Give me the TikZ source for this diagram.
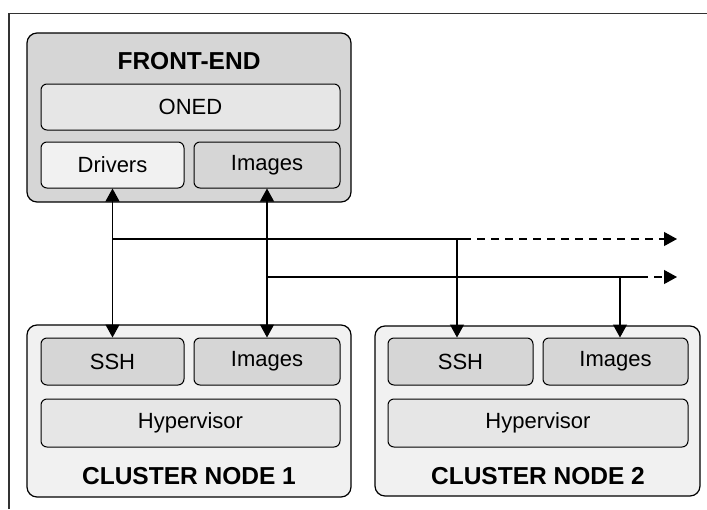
\documentclass[tikz,border=0pt]{standalone}
\usepackage{fontspec}
\setmainfont{Liberation Sans}
\usetikzlibrary{arrows.meta,positioning}

\definecolor{midgray}{RGB}{214,214,214}
\definecolor{litgray}{RGB}{230,230,230}
\definecolor{palegray}{RGB}{241,241,241}
\definecolor{framegray}{RGB}{50,50,50}

\begin{document}
\begin{tikzpicture}[x=1pt,y=-1pt,
  outbox/.style={draw,line width=1.2pt,rounded corners=10pt,inner sep=0pt},
  inbox/.style={draw,line width=1pt,rounded corners=6pt,inner sep=0pt,minimum height=46pt,
    font=\fontsize{22}{26}\selectfont},
  title/.style={font=\fontsize{24.5}{28}\selectfont\bfseries},
  conn/.style={line width=1.2pt,{Triangle[length=13pt,width=14pt]}-{Triangle[length=13pt,width=14pt]}},
  drop/.style={line width=1.2pt,-{Triangle[length=13pt,width=14pt]}},
  tail/.style={line width=1.2pt,dash pattern=on 8pt off 6pt,-{Triangle[length=13pt,width=14pt]}}]
\useasboundingbox (0,0) rectangle (707,509);
\draw[framegray,line width=1.5pt] (9,509) -- (9,13.5) -- (707,13.5);

% front-end
\node[outbox,fill=midgray,minimum width=324pt,minimum height=169pt] at (189,117.5) (fe) {};
\node[title] at (189,61) (fetitle) {FRONT-END};
\node[inbox,fill=litgray,minimum width=299pt] at (190.5,107) (oned) {ONED};
\node[inbox,fill=palegray,minimum width=143pt] at (112.5,165) (drv) {Drivers};
\node[inbox,fill=midgray,minimum width=146pt] at (267,165) (img) {Images};

% cluster node 1
\node[outbox,fill=palegray,minimum width=324pt,minimum height=172pt] at (189,411) (cn1) {};
\node[inbox,fill=midgray,minimum width=143pt,minimum height=47pt] at (112.5,361.5) (ssh1) {SSH};
\node[inbox,fill=midgray,minimum width=146pt,minimum height=47pt] at (267,361.5) (img1) {Images};
\node[inbox,fill=litgray,minimum width=299pt,minimum height=48pt] at (190.5,423) (hyp1) {Hypervisor};
\node[title] at (189,476) (cn1title) {CLUSTER NODE 1};

% cluster node 2
\node[outbox,fill=palegray,minimum width=325pt,minimum height=170pt] at (537.5,411) (cn2) {};
\node[inbox,fill=midgray,minimum width=145pt,minimum height=47pt] at (460.5,361.5) (ssh2) {SSH};
\node[inbox,fill=midgray,minimum width=145pt,minimum height=47pt] at (615.5,361.5) (img2) {Images};
\node[inbox,fill=litgray,minimum width=300pt,minimum height=48pt] at (538,423) (hyp2) {Hypervisor};
\node[title] at (538,476) (cn2title) {CLUSTER NODE 2};

% links
\coordinate (a1) at (112.5,239);
\coordinate (b1) at (457,239);
\coordinate (c1) at (463,239);
\coordinate (d1) at (677,239);
\coordinate (a2) at (267,277);
\coordinate (b2) at (620,277);
\coordinate (c2) at (640,277);
\coordinate (d2) at (677,277);

\draw[conn] (drv) -- (ssh1);
\draw[conn] (img) -- (img1);
\draw[line width=1.2pt] (a1) -- (c1);
\draw[tail] (c1) -- (d1);
\draw[line width=1.2pt] (a2) -- (c2);
\draw[tail] (c2) -- (d2);
\draw[drop] (b1) -- (b1 |- ssh2.north);
\draw[drop] (b2) -- (b2 |- img2.north);
\end{tikzpicture}
\end{document}
